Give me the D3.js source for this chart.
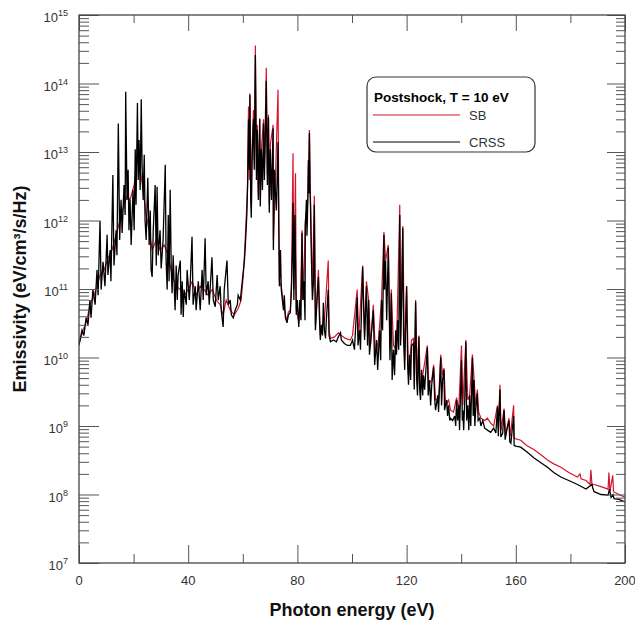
<!DOCTYPE html>
<html>
<head>
<meta charset="utf-8">
<script src="https://cdn.jsdelivr.net/npm/d3@7"></script>
<style>
  body { margin: 0; background: #fff; }
  svg { font-family: "Liberation Sans", Arial, sans-serif; }
</style>
</head>
<body>
<div id="chart"></div>
<script>
// Emissivity spectra, postshock T = 10 eV. [photon energy (eV), emissivity]
const crssPoints = [
  [0,1.5e10],[1.1,2.5e10],[1.8,2.1e10],[2.6,3.8e10],[3.3,3.0e10],[4.0,6.9e10],[4.4,3.8e10],[5.1,9.8e10],[5.9,5.9e10],[6.6,1.9e11],
  [7.0,8.1e10],[7.7,1.0e12],[8.1,9.8e10],[8.8,2.5e11],[9.5,1.1e11],[10.3,6.2e11],[10.6,1.6e11],[11.4,3.7e11],[11.7,1.3e11],[12.4,4.6e12],
  [12.8,2.2e11],[13.6,7.2e11],[13.9,3.1e11],[14.4,2.6e13],[14.9,5.2e11],[15.4,2.0e12],[15.8,6.6e11],[16.5,3.3e12],[16.9,1.2e12],[17.1,7.6e13],
  [17.6,2.0e12],[18.0,5.5e12],[18.3,7.2e11],[18.7,2.0e12],[19.1,4.4e11],[19.8,2.8e12],[20.2,7.2e11],[20.6,1.1e13],[20.9,1.7e12],[21.4,5.2e13],
  [21.7,3.9e12],[22.0,1.5e13],[22.4,2.8e12],[22.8,5.9e13],[23.1,6.5e12],[23.5,2.0e12],[23.9,9.1e12],[24.2,1.0e12],[24.6,5.2e11],[25.2,4.2e12],
  [25.7,4.4e11],[26.1,1.4e12],[26.4,1.9e11],[26.8,1.5e11],[27.2,7.2e11],[27.9,3.3e12],[28.3,2.2e11],[28.6,3.1e12],[29.0,3.1e11],[29.7,7.2e11],
  [30.1,2.0e11],[30.8,5.2e11],[31.6,6.5e12],[31.9,2.6e11],[32.3,9.8e10],[32.7,1.2e12],[33.0,1.3e11],[33.4,2.8e12],[33.8,1.9e11],[34.1,8.7e10],
  [34.5,3.1e11],[35.2,4.9e10],[35.6,2.2e11],[36.0,6.9e10],[36.3,1.6e11],[37.1,2.6e11],[37.4,4.2e10],[37.8,1.3e11],[38.2,3.9e10],[38.5,9.8e10],
  [39.3,5.9e10],[39.6,1.9e11],[40.4,6.9e10],[40.7,1.1e11],[41.4,5.8e11],[41.8,5.9e10],[42.6,1.1e11],[42.9,4.9e10],[43.7,1.3e11],[44.4,4.9e10],
  [45.1,1.9e11],[45.5,6.9e10],[46.2,5.5e11],[46.6,8.1e10],[47.3,1.3e11],[47.7,5.9e10],[48.7,2.9e11],[49.2,6.9e10],[49.9,5.5e10],[50.6,1.6e11],
  [51.0,6.9e10],[51.7,1.1e11],[52.1,4.9e10],[52.8,2.8e10],[53.2,9.8e10],[54.2,2.6e11],[54.7,5.9e10],[55.4,6.9e10],[55.8,4.2e10],[56.5,3.8e10],
  [57.2,4.9e10],[58.0,5.9e10],[58.3,8.1e10],[59.1,6.9e10],[59.8,1.3e11],
  [60.6,2.6e11],[60.9,4.1e11],[61.3,8.5e11],[61.5,1.3e12],[61.8,3.9e12],[62.1,3.0e13],[62.4,5.5e12],[62.6,6.8e13],[62.9,2.0e12],[63.1,1.1e12],
  [63.5,1.1e13],[63.9,3.0e13],[64.2,5.5e12],[64.6,2.6e14],[65.0,3.9e12],[65.3,2.1e13],[65.7,2.0e12],[66.2,3.0e13],[66.4,1.6e12],[66.8,1.1e13],
  [67.2,2.8e12],[67.6,2.6e13],[67.9,3.9e12],[68.3,2.1e13],[68.6,1.1e14],[69.0,3.3e12],[69.4,3.2e13],[69.7,1.3e12],[70.1,1.1e13],[70.5,2.0e12],
  [71.1,2.2e13],[71.2,3.7e11],[71.6,5.5e12],[71.9,2.8e12],[72.3,1.4e12],[72.9,1.4e13],[73.2,7.2e11],[73.4,1.1e11],[73.8,3.7e11],[74.1,9.8e10],
  [74.5,6.9e10],[74.9,4.9e10],[75.2,8.1e10],[75.6,3.8e10],[76.2,3.2e10],[76.7,4.2e10],[77.4,4.5e10],[77.8,9.8e10],[78.2,3.7e11],[78.4,1.8e12],
  [78.7,6.9e10],[79.1,1.2e12],[79.3,2.6e11],[79.6,4.2e10],[80.0,6.9e10],
  [80.5,2.8e10],[80.9,6.9e10],[81.3,3.5e10],[81.7,6.6e11],[82.0,6.9e10],[82.4,1.3e11],[82.8,3.5e10],[82.9,8.0e11],[83.3,2.0e12],[83.5,6.0e11],
  [83.7,1.2e12],[83.9,3.0e12],[84.0,7.6e12],[84.2,2.5e12],[84.4,1.9e13],[84.6,3.0e12],[84.8,1.6e12],[85.1,3.1e11],[85.5,6.9e10],[85.9,1.3e11],
  [86.2,1.7e12],[86.6,2.5e10],[87.0,4.9e10],[87.3,8.1e10],[87.7,1.5e11],[88.1,3.5e10],[88.4,1.8e10],[88.8,3.0e10],[89.2,2.1e10],[89.5,6.3e10],
  [89.9,2.5e10],[90.3,1.9e10],[90.6,3.5e10],[91.3,9.8e10],[91.6,2.1e10],[92.1,1.7e10],[93.2,1.8e10],[94.3,1.7e10],[95.0,2.0e10],[95.8,2.3e10],
  [96.1,1.8e10],[97.2,1.6e10],[98.3,1.5e10],[99.4,1.5e10],
  [100.2,1.8e10],[100.9,1.3e10],[101.9,7.6e10],[102.2,1.5e10],[102.8,2.5e10],[103.1,1.3e10],[103.9,2.1e11],[104.2,6.9e10],[104.6,1.8e10],[105.3,1.1e11],
  [105.7,1.5e10],[106.1,6.9e10],[106.4,1.1e10],[107.2,2.5e10],[107.8,4.9e10],[108.3,7.8e9],[109.0,1.8e10],[109.4,6.6e9],[110.1,2.5e10],[110.5,9.1e9],
  [110.8,6.9e10],[111.2,2.5e10],[111.7,6.2e11],[111.9,9.8e10],[112.3,2.6e11],[112.7,3.5e10],[113.3,4.0e11],[113.6,6.9e10],[113.9,9.1e9],[114.4,8.7e10],
  [114.7,4.7e9],[115.2,1.3e10],[115.6,5.5e9],[116.0,2.5e10],[116.3,1.1e10],[116.7,3.5e10],[117.1,1.3e10],[117.5,1.2e12],[117.8,1.5e10],[118.2,6.9e10],
  [118.6,7.8e11],[118.9,1.8e10],[119.3,6.6e9],[119.6,2.5e10],[120.0,1.1e11],[120.4,7.8e9],[120.7,4.0e9],[121.1,1.1e10],[121.5,4.7e9],[121.8,1.5e10],
  [122.5,1.6e10],[122.8,3.4e9],[123.3,6.5e10],[123.7,4.7e9],[124.0,2.8e9],[124.5,2.0e10],[124.8,3.4e9],[125.1,2.4e9],[125.5,6.6e9],[125.9,2.8e9],
  [126.2,5.5e9],[126.6,3.4e9],[127.6,1.4e10],[127.9,2.8e9],[128.4,4.7e9],[128.8,2.0e9],[129.2,4.0e9],[129.9,7.2e9],[130.3,2.4e9],[130.6,1.7e9],
  [131.4,2.8e9],[131.7,1.6e9],[132.5,1.0e10],[132.8,2.0e9],[133.2,4.7e9],[133.7,6.6e9],[133.9,1.7e9],[134.7,2.4e9],[135.0,1.4e9],[135.4,2.0e9],
  [135.8,1.2e9],[136.1,1.3e9],[136.9,1.2e9],[137.6,1.4e9],[138.0,1.0e9],[138.3,2.4e9],[138.7,1.2e9],[139.1,2.0e9],[139.4,8.7e8],[140.1,9.1e9],
  [140.4,1.2e9],[140.6,1.7e9],[140.9,8.7e8],[141.3,2.4e9],[141.7,1.7e10],[142.0,1.2e9],[142.4,2.0e9],[142.8,8.7e8],[143.1,2.8e9],[143.5,1.0e9],
  [144.1,1.0e10],[144.4,1.4e9],[144.7,4.7e9],[145.0,1.0e9],[145.3,1.7e9],[145.9,3.0e9],[146.2,1.2e9],[146.8,1.3e9],[147.2,1.0e9],[147.9,1.2e9],
  [148.6,9.3e8],
  [149.6,8.7e8],[150.8,8.1e8],[151.9,9.3e8],[152.7,7.9e8],[153.3,1.9e9],[153.6,7.1e8],[154.2,3.4e9],[154.5,6.9e8],[155.2,7.9e8],[155.7,1.7e9],
  [156.1,6.3e8],[156.7,8.7e8],[157.5,1.2e9],[157.8,5.9e8],[158.2,5.6e8],[159.2,1.4e9],[159.4,5.2e8],[160.0,5.1e8],[161.8,4.9e8],[164.0,4.2e8],
  [166.7,3.4e8],[169.2,2.9e8],[171.6,2.5e8],[173.9,2.1e8],[176.5,1.8e8],[179.4,1.6e8],[182.6,1.4e8],[185.7,1.2e8],[187.9,1.4e8],[188.3,1.2e8],
  [188.7,1.1e8],[191.2,1.0e8],[193.8,9.8e7],[194.3,1.2e8],[194.9,9.1e7],[195.6,1.0e8],[196.0,8.7e7],[197.8,8.5e7],[200,7.8e7]
];

const sbPoints = [
  [0,1.6e10],[1.5,2.5e10],[2.9,3.5e10],[4.0,5.9e10],[5.5,8.1e10],[6.6,1.1e11],[7.7,1.6e11],[9.2,1.9e11],[10.6,2.8e11],[12.1,3.7e11],
  [13.6,6.2e11],[15.0,1.0e12],[16.5,1.7e12],[17.6,2.3e12],[18.7,2.0e12],[20.2,3.3e12],[21.3,7.6e12],[22.4,5.5e12],[23.5,2.8e12],[24.6,1.2e12],
  [25.7,7.2e11],[26.8,3.7e11],[28.3,5.2e11],[29.7,3.7e11],[31.2,4.4e11],[32.7,3.1e11],[34.1,1.6e11],[35.6,1.1e11],[37.1,9.8e10],[38.5,8.1e10],
  [40.0,9.8e10],[41.5,1.3e11],[42.9,8.1e10],[44.4,1.1e11],[45.9,9.8e10],[47.3,8.1e10],[48.8,9.8e10],[50.3,6.9e10],[51.7,5.9e10],[52.8,4.2e10],
  [53.9,6.9e10],[55.4,4.9e10],[56.9,4.2e10],[58.3,5.2e10],[59.4,6.9e10],[60.2,1.6e11],
  [60.6,3.1e11],[60.9,5.5e11],[61.3,1.2e12],[61.7,2.8e12],[62.1,4.6e13],[62.4,3.9e12],[62.6,7.2e13],[62.9,2.8e12],[63.5,1.5e13],[63.9,4.1e13],
  [64.2,7.6e12],[64.6,3.6e14],[65.0,5.5e12],[65.3,2.5e13],[65.7,2.3e12],[66.2,3.1e13],[66.4,2.0e12],[66.8,1.1e13],[67.6,3.0e13],[67.9,5.5e12],
  [68.6,1.7e14],[69.0,4.6e12],[69.4,3.5e13],[69.7,1.7e12],[70.1,1.3e13],[71.1,2.5e13],[71.2,5.2e11],[71.9,3.3e12],[72.9,8.1e13],[73.2,1.0e12],
  [73.4,1.3e11],[74.1,1.1e11],[74.9,5.9e10],[75.6,4.2e10],[76.2,3.5e10],[76.7,4.6e10],[77.4,4.9e10],[77.8,1.1e11],[78.4,9.6e12],[78.7,9.8e10],
  [79.3,4.9e12],[79.6,4.9e10],[80.5,3.3e10],[81.1,5.9e10],[81.7,7.2e11],[82.2,6.9e10],[82.9,1.0e12],[83.7,1.7e12],[84.4,2.1e13],[84.8,2.0e12],
  [85.5,9.8e10],[86.2,2.3e12],[86.6,3.0e10],[87.3,9.8e10],[87.7,1.9e11],[88.4,2.1e10],[89.2,3.0e10],[89.9,3.5e10],[91.3,2.6e11],[91.6,2.5e10],
  [92.1,1.9e10],[93.6,2.0e10],[95.0,2.3e10],[96.1,2.1e10],[97.6,1.9e10],[99.4,1.8e10],
  [100.2,2.1e10],[101.9,9.8e10],[102.4,1.8e10],[103.9,2.2e11],[104.6,2.1e10],[105.3,1.3e11],[106.1,6.9e10],[106.8,1.5e10],[107.8,5.9e10],[108.6,1.1e10],
  [109.7,1.8e10],[110.8,6.9e10],[111.7,6.8e11],[112.3,2.6e11],[113.3,4.4e11],[113.9,1.3e10],[114.4,9.8e10],[115.2,1.5e10],[116.3,1.3e10],[117.5,1.7e12],
  [117.8,1.8e10],[118.6,8.3e11],[119.3,9.1e9],[120.0,1.1e11],[120.7,5.5e9],[121.8,1.8e10],[122.5,1.9e10],[122.9,4.7e9],[123.3,6.9e10],[124.0,4.0e9],
  [124.5,2.1e10],[125.1,3.4e9],[126.2,6.6e9],[127.6,1.5e10],[128.1,4.0e9],[129.2,4.7e9],[129.9,7.8e9],[130.6,2.4e9],[131.7,2.4e9],[132.5,1.1e10],
  [133.2,5.5e9],[133.7,7.0e9],[134.3,2.0e9],[135.4,2.4e9],[136.1,1.7e9],[137.2,1.6e9],[138.3,2.6e9],[139.1,1.7e9],[140.1,1.5e10],[140.6,2.0e9],
  [141.7,1.8e10],[142.4,2.4e9],[143.1,2.8e9],[144.1,1.1e10],[144.7,5.0e9],[145.3,2.0e9],[145.9,3.4e9],[146.4,1.6e9],[147.2,1.3e9],[148.6,1.2e9],
  [149.6,1.3e9],[150.8,1.1e9],[151.9,1.0e9],[153.3,2.0e9],[153.6,9.3e8],[154.2,4.0e9],[154.6,8.7e8],[155.7,1.8e9],[156.3,7.6e8],[157.5,1.3e9],
  [158.0,7.1e8],[159.2,2.0e9],[159.4,6.6e8],[161.8,6.2e8],[164.0,5.2e8],[166.7,4.5e8],[169.2,3.8e8],[171.6,3.2e8],[173.9,2.8e8],[176.5,2.5e8],
  [179.4,2.1e8],[182.6,1.8e8],[183.5,2.0e8],[183.9,1.7e8],[185.7,1.6e8],[187.2,1.4e8],[187.5,2.3e8],[187.9,1.4e8],[188.7,1.4e8],[191.2,1.3e8],
  [193.8,1.2e8],[194.1,2.1e8],[194.5,1.1e8],[195.5,1.9e8],[195.8,1.1e8],[197.8,1.0e8],[200,9.1e7]
];

const xMajorTicks = [0, 40, 80, 120, 160, 200];
const xMinorTicks = [20, 60, 100, 140, 180];
const yDecades = [1e7, 1e8, 1e9, 1e10, 1e11, 1e12, 1e13, 1e14, 1e15];

const seriesNames = ["SB", "CRSS"];
const seriesColors = ["#d4142c", "#000000"];

let width = 635, height = 624;
let plotLeft = 79, plotRight = 625, plotTop = 15, plotBottom = 563;

let x = d3.scaleLinear().domain([0, 200]).range([plotLeft, plotRight]);
let y = d3.scaleLog().domain([1e7, 1e15]).range([plotBottom, plotTop]);

let svg = d3.select("#chart").append("svg")
  .attr("width", width)
  .attr("height", height);

svg.append("clipPath").attr("id", "plot-clip")
  .append("rect")
  .attr("x", plotLeft).attr("y", plotTop)
  .attr("width", plotRight - plotLeft).attr("height", plotBottom - plotTop);

// spectra: SB underneath, CRSS on top
let line = d3.line().x(d => x(d[0])).y(d => y(d[1]));
let plot = svg.append("g").attr("clip-path", "url(#plot-clip)");
plot.append("path")
  .datum(sbPoints)
  .attr("fill", "none")
  .attr("stroke", seriesColors[0])
  .attr("stroke-width", 1.2)
  .attr("d", line);
plot.append("path")
  .datum(crssPoints)
  .attr("fill", "none")
  .attr("stroke", seriesColors[1])
  .attr("stroke-width", 1.3)
  .attr("d", line);

// ticks, all pointing inward
let yMinor = y.ticks().filter(v => !yDecades.includes(v));
let axisColor = "#555";

function styleAxis(g) {
  g.select(".domain").remove();
  g.selectAll(".tick line").attr("stroke", axisColor).attr("stroke-width", 1);
  g.selectAll(".tick text").remove();
}

svg.append("g").attr("transform", `translate(0,${plotBottom})`)
  .call(d3.axisBottom(x).tickValues(xMajorTicks).tickSize(-18)).call(styleAxis);
svg.append("g").attr("transform", `translate(0,${plotBottom})`)
  .call(d3.axisBottom(x).tickValues(xMinorTicks).tickSize(-9)).call(styleAxis);
svg.append("g").attr("transform", `translate(0,${plotTop})`)
  .call(d3.axisTop(x).tickValues(xMajorTicks).tickSize(-16)).call(styleAxis);
svg.append("g").attr("transform", `translate(0,${plotTop})`)
  .call(d3.axisTop(x).tickValues(xMinorTicks).tickSize(-8)).call(styleAxis);

svg.append("g").attr("transform", `translate(${plotLeft},0)`)
  .call(d3.axisLeft(y).tickValues(yDecades).tickSize(-20)).call(styleAxis);
svg.append("g").attr("transform", `translate(${plotLeft},0)`)
  .call(d3.axisLeft(y).tickValues(yMinor).tickSize(-10)).call(styleAxis);
svg.append("g").attr("transform", `translate(${plotRight},0)`)
  .call(d3.axisRight(y).tickValues(yDecades).tickSize(-18)).call(styleAxis);
svg.append("g").attr("transform", `translate(${plotRight},0)`)
  .call(d3.axisRight(y).tickValues(yMinor).tickSize(-9)).call(styleAxis);

// frame
svg.append("rect")
  .attr("x", plotLeft).attr("y", plotTop)
  .attr("width", plotRight - plotLeft).attr("height", plotBottom - plotTop)
  .attr("fill", "none")
  .attr("stroke", "#444")
  .attr("stroke-width", 1.3);

// tick labels
svg.selectAll(".xlabel")
  .data(xMajorTicks)
  .enter().append("text")
  .attr("x", d => x(d))
  .attr("y", 585)
  .attr("text-anchor", "middle")
  .attr("font-size", 13)
  .attr("fill", "#333")
  .text(d => d);

let ylab = svg.selectAll(".ylabel")
  .data(yDecades)
  .enter().append("text")
  .attr("x", 68)
  .attr("y", d => y(d) + 7)
  .attr("text-anchor", "end")
  .attr("font-size", 13)
  .attr("fill", "#333");
ylab.append("tspan").text("10");
ylab.append("tspan")
  .attr("font-size", 9)
  .attr("dy", -6)
  .text(d => Math.round(Math.log10(d)));

// axis titles
svg.append("text")
  .attr("x", (plotLeft + plotRight) / 2)
  .attr("y", 616)
  .attr("text-anchor", "middle")
  .attr("font-size", 18)
  .attr("font-weight", "bold")
  .attr("fill", "#111")
  .text("Photon energy (eV)");

svg.append("text")
  .attr("transform", `translate(26,${(plotTop + plotBottom) / 2}) rotate(-90)`)
  .attr("text-anchor", "middle")
  .attr("font-size", 18)
  .attr("font-weight", "bold")
  .attr("fill", "#111")
  .text("Emissivity (eV/cm³/s/Hz)");

// legend
let legend = svg.append("g");
legend.append("rect")
  .attr("x", 367).attr("y", 77)
  .attr("width", 168).attr("height", 75)
  .attr("rx", 9)
  .attr("fill", "#fff")
  .attr("stroke", "#333")
  .attr("stroke-width", 1.2);
legend.append("text")
  .attr("x", 374).attr("y", 102)
  .attr("font-size", 13.5)
  .attr("font-weight", "bold")
  .attr("fill", "#000")
  .text("Postshock, T = 10 eV");
seriesNames.forEach((name, i) => {
  let ly = 115 + i * 27;
  legend.append("line")
    .attr("x1", 373).attr("x2", 460)
    .attr("y1", ly).attr("y2", ly)
    .attr("stroke", seriesColors[i])
    .attr("stroke-width", 1.2);
  legend.append("text")
    .attr("x", 469).attr("y", ly + 5)
    .attr("font-size", 13)
    .attr("fill", "#333")
    .text(name);
});
</script>
</body>
</html>
